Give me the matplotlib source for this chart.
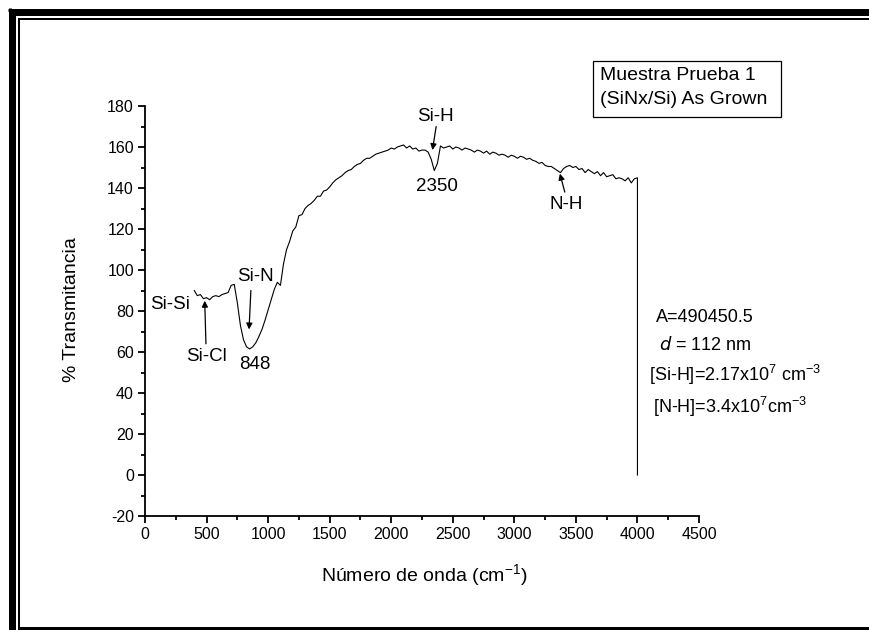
import matplotlib
matplotlib.use("Agg")
import matplotlib.pyplot as plt
from matplotlib.lines import Line2D
from matplotlib.patches import Rectangle
import numpy as np

plt.rcParams['font.family'] = ['Liberation Sans', 'DejaVu Sans']
plt.rcParams['axes.unicode_minus'] = False
plt.rcParams['mathtext.default'] = 'regular'

# FTIR transmittance spectrum, sampled every 25 cm-1 from 400 to 4000
wavenumber = np.arange(400, 4001, 25)
transmittance = [
    90.0, 87.5, 88.0, 86.0, 86.5, 85.5, 87.0, 87.5, 87.0, 88.0,      # 400-625
    88.5, 89.0, 92.5, 93.0, 84.0, 73.0, 66.0, 62.5, 61.5, 62.5,      # 650-875
    64.5, 67.5, 71.0, 75.5, 80.5, 85.5, 90.5, 94.0, 92.5, 103.0,     # 900-1125
    110.0, 114.0, 119.0, 121.0, 126.5, 127.0, 130.0, 131.5, 132.5, 134.0,  # 1150-1375
    136.0, 136.0, 138.5, 139.0, 140.5, 142.5, 144.0, 145.0, 146.0, 147.5,  # 1400-1625
    148.5, 149.0, 150.5, 151.5, 152.0, 153.5, 154.5, 154.5, 155.5, 156.5,  # 1650-1875
    157.0, 157.5, 158.0, 158.5, 159.5, 159.0, 160.0, 160.5, 161.0, 159.5,  # 1900-2125
    160.5, 159.0, 159.5, 158.0, 158.5, 158.5, 157.5, 154.0, 148.5, 152.0,  # 2150-2375
    160.5, 159.5, 160.0, 160.5, 159.0, 160.0, 159.5, 158.5, 159.5, 159.0,  # 2400-2625
    158.5, 157.5, 158.5, 158.0, 157.0, 158.0, 156.5, 157.5, 157.0, 156.0,  # 2650-2875
    156.5, 156.0, 155.0, 156.0, 155.5, 154.5, 155.5, 155.0, 154.0, 154.5,  # 2900-3125
    153.5, 153.0, 152.0, 152.5, 151.0, 150.5, 150.5, 149.5, 148.5, 147.5,  # 3150-3375
    149.5, 150.5, 151.0, 150.0, 150.5, 149.0, 149.5, 147.5, 149.0, 148.0,  # 3400-3625
    147.0, 148.0, 146.0, 147.5, 145.5, 146.0, 146.5, 144.5, 145.0, 144.5,  # 3650-3875
    143.5, 145.0, 142.5, 144.5, 145.0,                                     # 3900-4000
]
# the recorded file ends with a zero at 4000 cm-1
wn = np.append(wavenumber, 4000)
tr = np.append(transmittance, 0.0)

# band labels: (text, text position) and arrows (tip, tail)
band_labels = [
    ("Si-Si", (200, 83)),
    ("Si-Cl", (500, 58)),
    ("Si-N", (900, 97)),
    ("848", (890, 54)),
    ("Si-H", (2360, 175)),
    ("2350", (2375, 140.5)),
    ("N-H", (3420, 132)),
]
band_arrows = [
    ((485, 85), (495, 64)),
    ((845, 71), (860, 90)),
    ((2335, 158.5), (2365, 170)),
    ((3370, 147), (3410, 138)),
]
results = [
    ("A=490450.5", (4150, 77)),
    ("$\\mathit{d}$ = 112 nm", (4175, 63.5)),
    ("[Si-H]=2.17x10$^{7}$ cm$^{-3}$", (4090, 49)),
    ("[N-H]=3.4x10$^{7}$cm$^{-3}$", (4125, 33)),
]

W, H = 869, 630
fig = plt.figure(figsize=(W / 100, H / 100), dpi=100)
ax = fig.add_axes([145 / W, 1 - 516 / H, 554 / W, 410 / H])

ax.plot(wn, tr, color='black', lw=0.8)

ax.set_xlim(0, 4500)
ax.set_ylim(-20, 180)
ax.set_xticks(np.arange(0, 4501, 500))
ax.set_xticks(np.arange(250, 4500, 500), minor=True)
ax.set_yticks(np.arange(-20, 181, 20))
ax.set_yticks(np.arange(-10, 180, 20), minor=True)
for s in ('top', 'right'):
    ax.spines[s].set_visible(False)
for s in ('left', 'bottom'):
    ax.spines[s].set_linewidth(1.3)
ax.tick_params(which='major', direction='out', length=5, width=1.3,
               labelsize=11.5, pad=3)
ax.tick_params(which='minor', direction='out', length=3, width=1.3)

for txt, pos in band_labels:
    ax.text(pos[0], pos[1], txt, fontsize=13.5, ha='center', va='center')
for tip, tail in band_arrows:
    ax.annotate('', xy=tip, xytext=tail,
                arrowprops=dict(arrowstyle='-|>', color='black', lw=0.9,
                                mutation_scale=9, shrinkA=0, shrinkB=0))
for txt, pos in results:
    ax.text(pos[0], pos[1], txt, fontsize=13, ha='left', va='center')

fig.text(72 / W, 1 - 310 / H, "% Transmitancia", rotation=90,
         ha='center', va='center', fontsize=14)
fig.text(424 / W, 1 - 575 / H, "Número de onda (cm$^{-1}$)",
         ha='center', va='center', fontsize=14)

# sample name box
fig.add_artist(Rectangle((593 / W, 1 - 117 / H), 188 / W, 56 / H,
                         transform=fig.transFigure, fill=False,
                         edgecolor='black', lw=0.9))
fig.text(600 / W, 1 - 76 / H, "Muestra Prueba 1", fontsize=14, va='center')
fig.text(600 / W, 1 - 100 / H, "(SiNx/Si) As Grown", fontsize=14, va='center')

# page border: three lines on top and left, one at the bottom
def px_line(x0, y0, x1, y1, width):
    fig.add_artist(Line2D([x0 / W, x1 / W], [1 - y0 / H, 1 - y1 / H],
                          transform=fig.transFigure, color='black',
                          lw=width * 0.72, solid_capstyle='butt'))

for off, w in [(9.5, 3), (14, 4), (18.5, 2)]:
    px_line(off - w / 2, off, W, off, w)
    px_line(off, off - w / 2, off, H, w)
px_line(18, 627.5, W, 627.5, 3)

fig.savefig("out.png", dpi=100)
